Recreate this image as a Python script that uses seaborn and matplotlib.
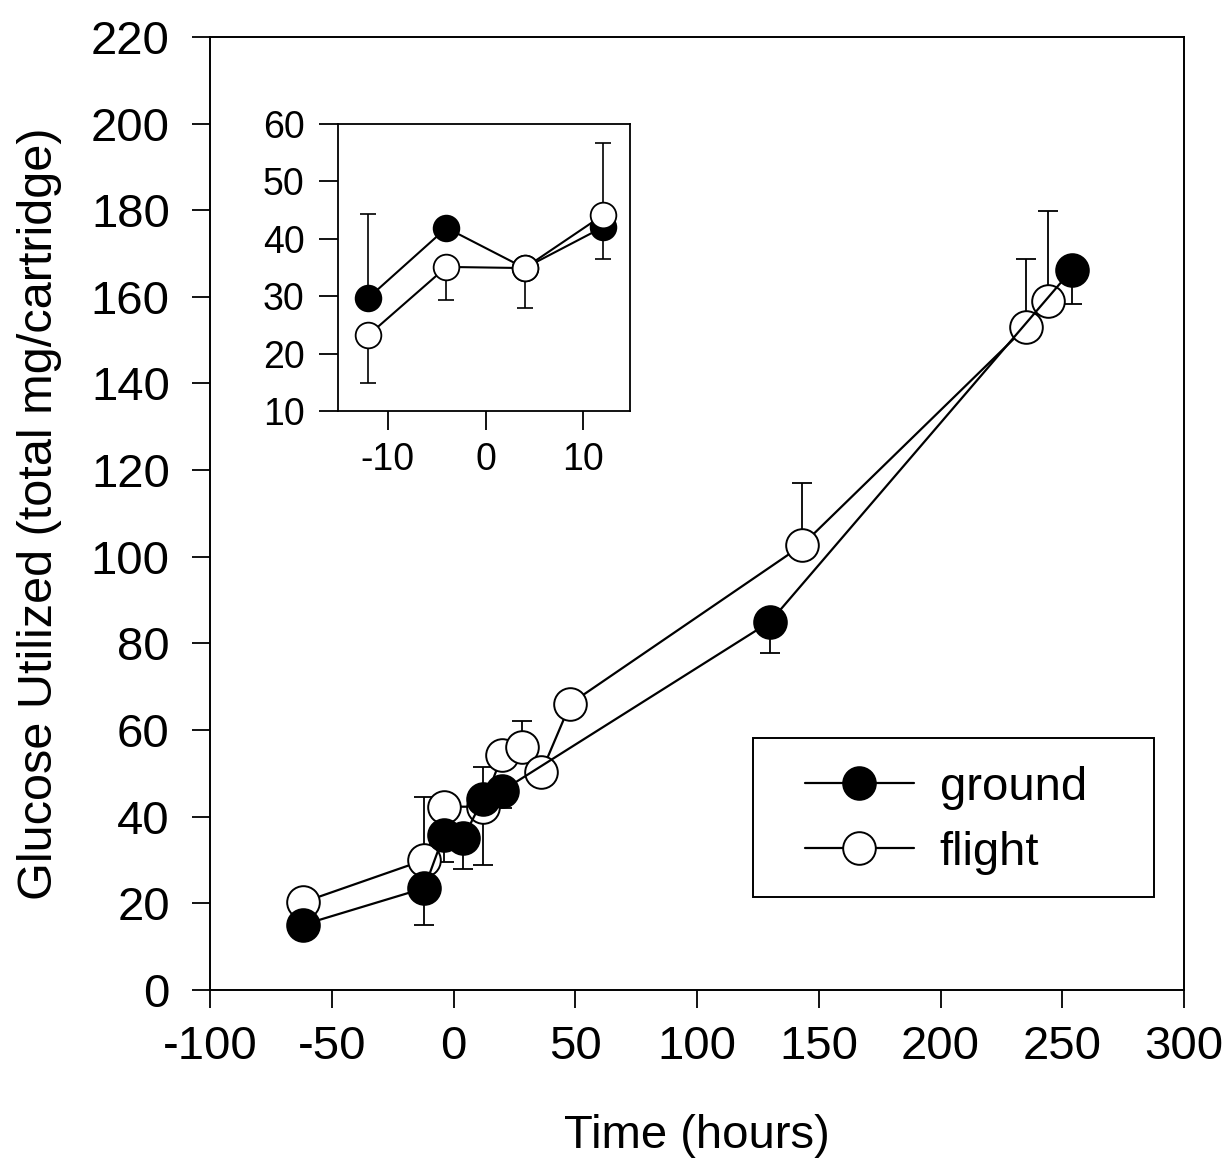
import matplotlib
matplotlib.use("Agg")
import matplotlib.pyplot as plt
from matplotlib.patches import Rectangle
import seaborn as sns
import numpy as np

# ---- main plot data ----
ground_x = [-62, -12, -4, 4, 12, 20, 130, 254]
ground_y = [15, 23.5, 35.8, 35.1, 44, 46, 85, 166.3]
ground_err_lo = [2.5, 8.6, 6.2, 7.1, 15.2, 4, 7.3, 8]

flight_x = [-62, -12, -4, 12, 20, 28, 36, 48, 143, 235, 244]
flight_y = [20.2, 30, 42.3, 42.3, 54.3, 56, 50.2, 66.1, 102.6, 153, 159]
flight_err_hi = [0, 14.6, 0, 9.2, 0, 6, 0, 0, 14.5, 15.7, 20.8]

# ---- inset data ----
in_ground_x = [-12, -4, 4, 12]
in_ground_y = [29.7, 41.9, 34.9, 42]
in_ground_err_lo = [0, 0, 6.9, 5.5]
in_ground_err_hi = [14.6, 0, 0, 0]

in_flight_x = [-12, -4, 4, 12]
in_flight_y = [23.2, 35.1, 34.9, 44.1]
in_flight_err_lo = [8.3, 5.8, 0, 0]
in_flight_err_hi = [0, 0, 0, 12.6]

main_xticks = [-100, -50, 0, 50, 100, 150, 200, 250, 300]
main_yticks = list(range(0, 221, 20))
inset_xticks = [-10, 0, 10]
inset_yticks = [10, 20, 30, 40, 50, 60]

sns.set_style("ticks")
plt.rcParams['font.family'] = ['Liberation Sans', 'DejaVu Sans']
plt.rcParams['axes.unicode_minus'] = False
plt.rcParams['text.color'] = 'black'
plt.rcParams['axes.labelcolor'] = 'black'

fig = plt.figure(figsize=(12.32, 11.6), dpi=100)
ax = fig.add_axes([0.1705, 0.1466, 0.7906, 0.8216])

lw = 1.6
ax.errorbar(flight_x, flight_y, yerr=[np.zeros(len(flight_x)), flight_err_hi],
            fmt='none', ecolor='black', elinewidth=1.3, capsize=7, capthick=1.3, zorder=1)
ax.errorbar(ground_x, ground_y, yerr=[ground_err_lo, np.zeros(len(ground_x))],
            fmt='none', ecolor='black', elinewidth=1.3, capsize=7, capthick=1.3, zorder=1)

sns.lineplot(x=flight_x, y=flight_y, ax=ax, color='black', lw=lw, marker='o',
             markersize=23.5, markerfacecolor='white', markeredgecolor='black',
             markeredgewidth=1.4, label='flight', zorder=2, sort=False)
sns.lineplot(x=ground_x, y=ground_y, ax=ax, color='black', lw=lw, marker='o',
             markersize=23.5, markerfacecolor='black', markeredgecolor='black',
             markeredgewidth=1.4, label='ground', zorder=3, sort=False)

ax.set_xlim(-100, 300)
ax.set_ylim(0, 220)
ax.set_xticks(main_xticks)
ax.set_yticks(main_yticks)
ax.tick_params(axis='both', direction='out', length=13, width=1.3, labelsize=34,
               colors='black', labelcolor='black')
ax.tick_params(axis='x', pad=12)
ax.tick_params(axis='y', pad=16)
for s in ax.spines.values():
    s.set_visible(True)
    s.set_linewidth(1.4)
    s.set_color('black')
ax.set_xlabel('Time (hours)', fontsize=34, labelpad=33)
ax.set_ylabel('Glucose Utilized (total mg/cartridge)', fontsize=35, labelpad=21)

# legend frame and entries
ax.add_patch(Rectangle((0.557, 0.0977), 0.412, 0.167, transform=ax.transAxes,
                       facecolor='white', edgecolor='black', lw=1.4, zorder=4))
handles, labels = ax.get_legend_handles_labels()
order = [labels.index('ground'), labels.index('flight')]
leg = ax.legend([handles[i] for i in order], [labels[i] for i in order],
                loc='center left', bbox_to_anchor=(0.611, 0.178), fontsize=34,
                frameon=False, handlelength=2.3, handletextpad=0.55, borderpad=0,
                labelspacing=0.45, borderaxespad=0)
leg.set_zorder(5)

# ---- inset ----
ins = fig.add_axes([0.2744, 0.6457, 0.237, 0.2474])
ins.errorbar(in_flight_x, in_flight_y, yerr=[in_flight_err_lo, in_flight_err_hi],
             fmt='none', ecolor='black', elinewidth=1.2, capsize=5.5, capthick=1.2, zorder=1)
ins.errorbar(in_ground_x, in_ground_y, yerr=[in_ground_err_lo, in_ground_err_hi],
             fmt='none', ecolor='black', elinewidth=1.2, capsize=5.5, capthick=1.2, zorder=1)
sns.lineplot(x=in_ground_x, y=in_ground_y, ax=ins, color='black', lw=1.5, marker='o',
             markersize=18.5, markerfacecolor='black', markeredgecolor='black',
             markeredgewidth=1.3, zorder=2, sort=False, legend=False)
sns.lineplot(x=in_flight_x, y=in_flight_y, ax=ins, color='black', lw=1.5, marker='o',
             markersize=18.5, markerfacecolor='white', markeredgecolor='black',
             markeredgewidth=1.3, zorder=3, sort=False, legend=False)
ins.set_xlim(-15.1, 14.8)
ins.set_ylim(10, 60)
ins.set_xticks(inset_xticks)
ins.set_yticks(inset_yticks)
ins.tick_params(axis='both', direction='out', length=14, width=1.3, labelsize=27,
                colors='black', labelcolor='black')
ins.tick_params(axis='x', pad=8)
ins.tick_params(axis='y', pad=10)
for s in ins.spines.values():
    s.set_visible(True)
    s.set_linewidth(1.3)
    s.set_color('black')
ins.set_xlabel('')
ins.set_ylabel('')

fig.savefig('out.png', dpi=100, facecolor='white')
